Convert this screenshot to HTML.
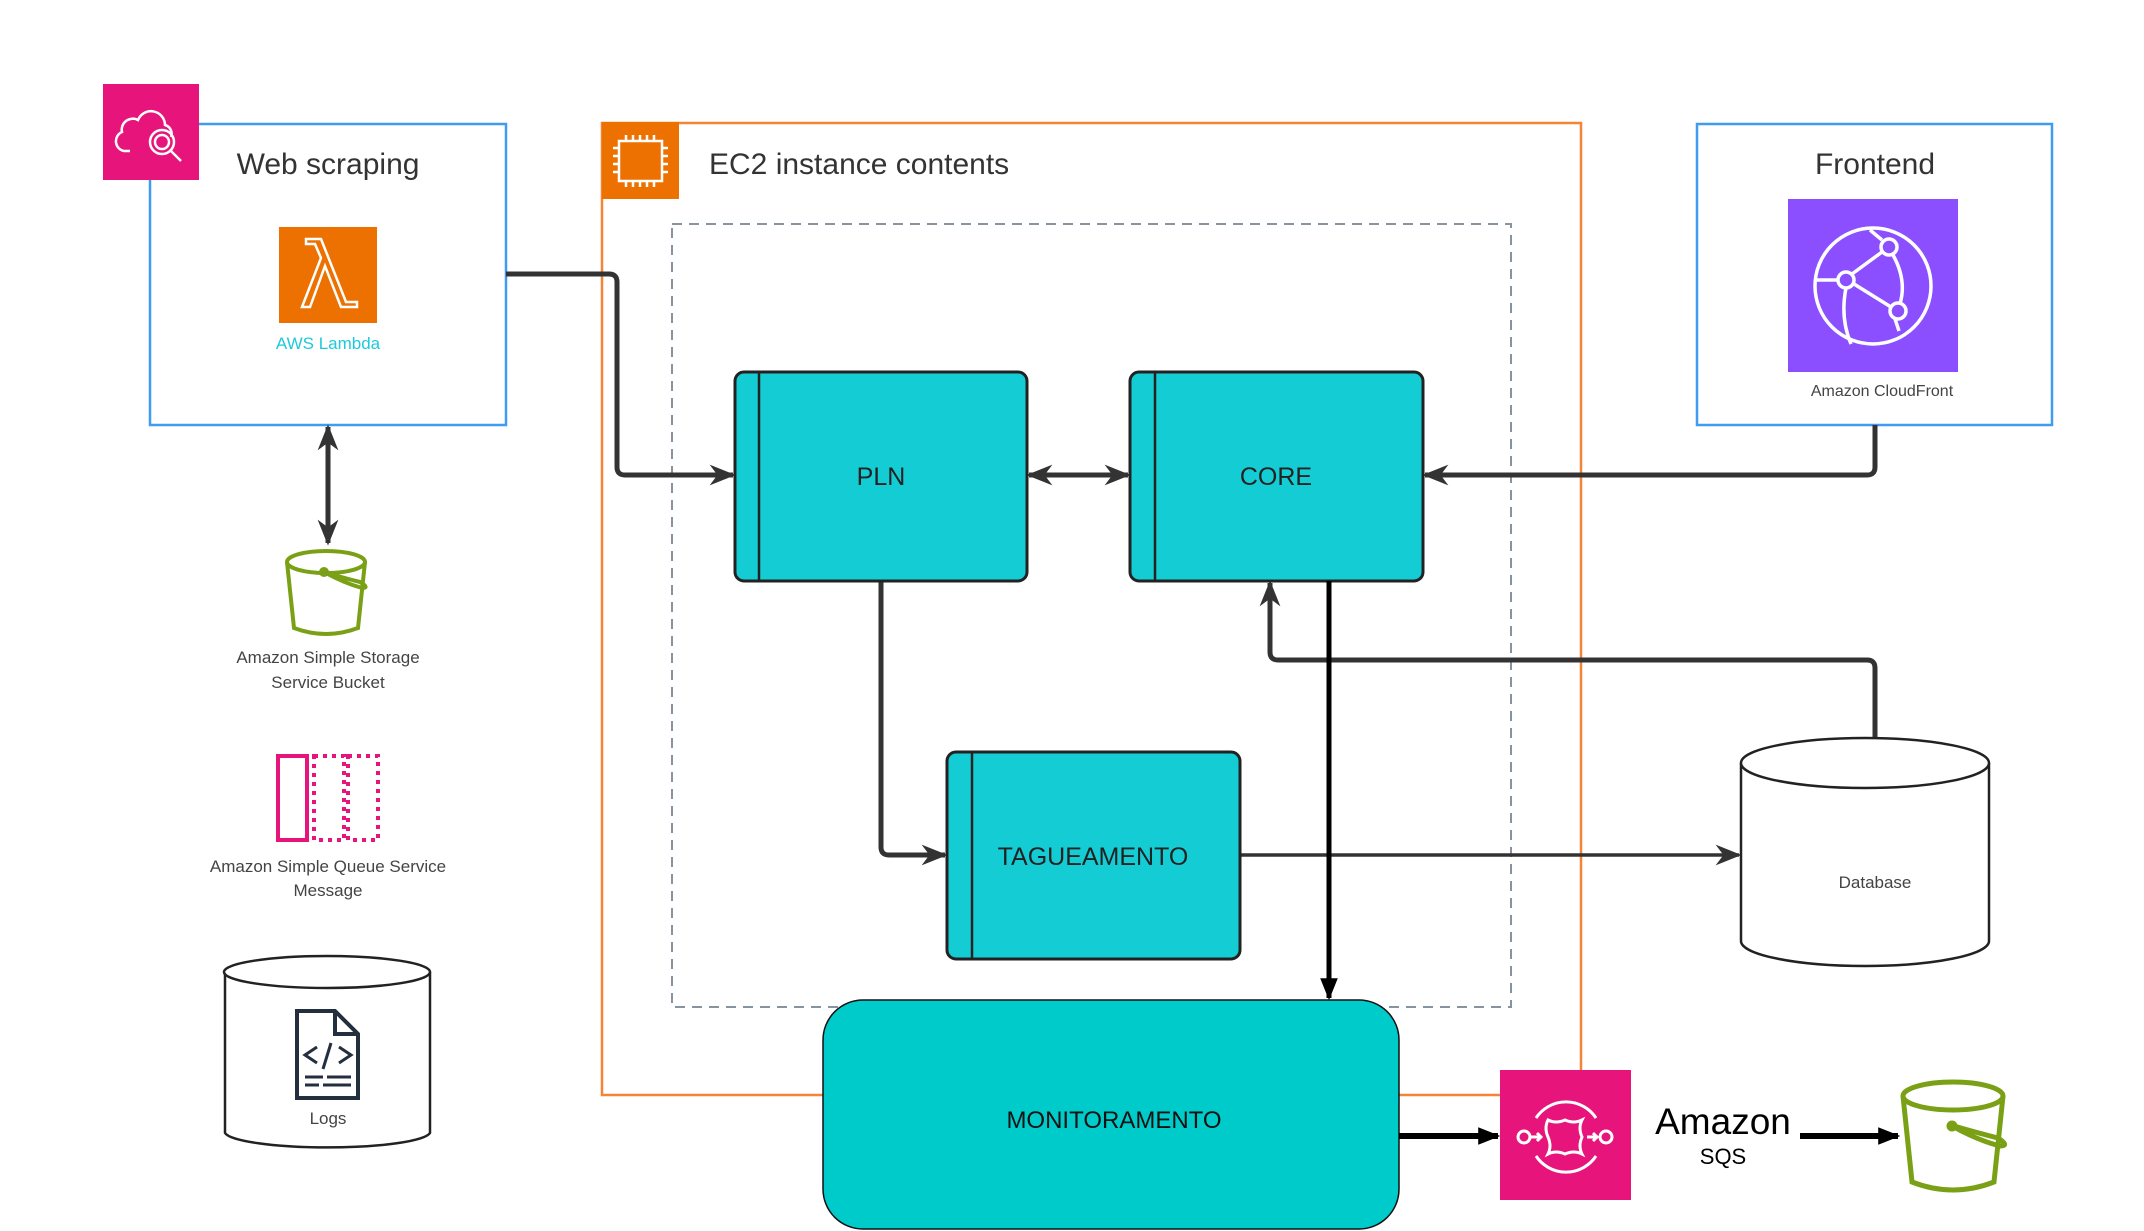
<!DOCTYPE html>
<html><head><meta charset="utf-8"><style>
html,body{margin:0;padding:0;background:#fff;}
svg{display:block;}
text{font-family:"Liberation Sans",sans-serif;}
</style></head><body>
<svg width="2144" height="1231" viewBox="0 0 2144 1231" xmlns="http://www.w3.org/2000/svg">
<defs>
<marker id="a2" viewBox="0 0 10 10" refX="9" refY="5" markerWidth="26" markerHeight="26" orient="auto-start-reverse" markerUnits="userSpaceOnUse"><path d="M0,1 L10,5 L0,9 L3,5 z" fill="#333"/></marker>
<marker id="ab" viewBox="0 0 10 10" refX="9" refY="5" markerWidth="22" markerHeight="22" orient="auto" markerUnits="userSpaceOnUse"><path d="M0,1 L10,5 L0,9 z" fill="#000"/></marker>
</defs>

<rect x="602" y="123" width="979" height="972" fill="none" stroke="#f58536" stroke-width="2.5"/>
<rect x="602" y="122" width="77" height="77" fill="#ed7100"/>
<g fill="none" stroke="#fff" stroke-width="2.5">
<rect x="619" y="141" width="43" height="40"/>
<path d="M626 141v-6M633 141v-6M640 141v-6M647 141v-6M654 141v-6M626 181v6M633 181v6M640 181v6M647 181v6M654 181v6M619 148h-6M619 156h-6M619 164h-6M619 172h-6M662 148h6M662 156h6M662 164h6M662 172h6"/>
</g>
<text x="709" y="174" font-size="30" fill="#333">EC2 instance contents</text>

<rect x="672" y="224" width="839" height="783" fill="none" stroke="#8893a0" stroke-width="2" stroke-dasharray="10,7"/>

<rect x="150" y="124" width="356" height="301" fill="#fff" stroke="#3f9cf0" stroke-width="2.5"/>
<rect x="103" y="84" width="96" height="96" fill="#e7157b"/>
<g fill="none" stroke="#fff" stroke-width="2.5">
<path d="M130 151 h-6 a10 10 0 0 1 -2 -19 a11 11 0 0 1 16 -12 a14 14 0 0 1 27 5 a9 9 0 0 1 6 12"/>
<circle cx="162" cy="142" r="12"/><circle cx="162" cy="142" r="7"/>
<path d="M171 151 l10 10"/>
</g>
<text x="328" y="174" font-size="30" fill="#333" text-anchor="middle">Web scraping</text>
<rect x="279" y="227" width="98" height="96" fill="#ed7100"/>
<path d="M306 239 h15 l25 63 h11 v5 h-16 l-16 -41 l-15 41 h-8 l19 -49 l-6 -14 h-9 z" fill="none" stroke="#fff" stroke-width="2.5"/>
<text x="328" y="349" font-size="17" fill="#1ec9dc" text-anchor="middle">AWS Lambda</text>

<rect x="1697" y="124" width="355" height="301" fill="#fff" stroke="#3f9cf0" stroke-width="2.5"/>
<text x="1875" y="174" font-size="30" fill="#333" text-anchor="middle">Frontend</text>
<rect x="1788" y="199" width="170" height="173" fill="#8c4fff"/>
<g fill="none" stroke="#fff" stroke-width="3.5">
<circle cx="1873" cy="286" r="58"/>
<circle cx="1889" cy="247" r="8"/><circle cx="1846" cy="280" r="8"/><circle cx="1898" cy="311" r="8"/>
<path d="M1882 252 l-30 22 M1854 284 l37 23 M1893 255 q14 25 7 49 M1846 288 q-6 30 5 56 M1838 280 h-22 M1870 230 l12 10 M1895 319 l4 12"/>
</g>
<text x="1882" y="396" font-size="16" fill="#444" text-anchor="middle">Amazon CloudFront</text>

<g fill="none" stroke="#333" stroke-width="5">
<path d="M506 274 H609 q8 0 8 8 V467 q0 8 8 8 H733" marker-end="url(#a2)"/>
<path d="M1029 475 H1128" marker-start="url(#a2)" marker-end="url(#a2)"/>
<path d="M1875 425 V467 q0 8 -8 8 H1425" marker-end="url(#a2)"/>
<path d="M881 581 V847 q0 8 8 8 H945" marker-end="url(#a2)"/>
<path d="M1875 738 V668 q0 -8 -8 -8 H1278 q-8 0 -8 -8 V583" marker-end="url(#a2)"/>
<path d="M328 427 V543" marker-start="url(#a2)" marker-end="url(#a2)"/>
</g>
<path d="M1240 855 H1739" fill="none" stroke="#333" stroke-width="3.5" marker-end="url(#a2)"/>

<g stroke="#222" stroke-width="3" fill="#14cdd4">
<rect x="735" y="372" width="292" height="209" rx="9"/>
<rect x="1130" y="372" width="293" height="209" rx="9"/>
<rect x="947" y="752" width="293" height="207" rx="9"/>
</g>
<g stroke="#222" stroke-width="2.5"><path d="M759 372V581M1155 372V581M972 752V959"/></g>
<text x="881" y="485" font-size="25" fill="#222" text-anchor="middle">PLN</text>
<text x="1276" y="485" font-size="25" fill="#222" text-anchor="middle">CORE</text>
<text x="1093" y="865" font-size="25" fill="#222" text-anchor="middle">TAGUEAMENTO</text>

<path d="M1741 763 V941 A124 25 0 0 0 1989 941 V763" fill="#fff" stroke="#222" stroke-width="2.5"/>
<ellipse cx="1865" cy="763" rx="124" ry="25" fill="#fff" stroke="#222" stroke-width="2.5"/>
<text x="1875" y="888" font-size="17" fill="#444" text-anchor="middle">Database</text>

<rect x="823" y="1000" width="576" height="229" rx="40" fill="#00cbcb" stroke="#111" stroke-width="1.5"/>
<text x="1114" y="1128" font-size="24" fill="#111" text-anchor="middle">MONITORAMENTO</text>
<path d="M1329 581 V998" stroke="#000" stroke-width="5" fill="none" marker-end="url(#ab)"/>
<path d="M1399 1136 H1498" stroke="#000" stroke-width="6" fill="none" marker-end="url(#ab)"/>

<rect x="1500" y="1070" width="131" height="130" fill="#e7157b"/>
<g fill="none" stroke="#fff" stroke-width="3">
<path d="M1536 1118 a36 36 0 0 1 60 0 M1536 1156 a36 36 0 0 0 60 0"/>
<circle cx="1524" cy="1137" r="6"/><circle cx="1606" cy="1137" r="6"/>
<path d="M1531 1137 h10 M1537 1133 l4 4 -4 4 M1587 1137 h10 M1593 1133 l4 4 -4 4"/>
<path d="M1548 1120 q8 4 17 0 q9 4 17 0 q-4 8 0 17 q-4 9 0 17 q-8 -4 -17 0 q-9 -4 -17 0 q4 -8 0 -17 q-4 -9 0 -17 z"/>
</g>
<text x="1723" y="1134" font-size="37" fill="#000" text-anchor="middle">Amazon</text>
<text x="1723" y="1164" font-size="22" fill="#000" text-anchor="middle">SQS</text>
<path d="M1800 1136 H1898" stroke="#000" stroke-width="6" fill="none" marker-end="url(#ab)"/>

<g fill="none" stroke="#7aa116" stroke-width="5">
<ellipse cx="1953" cy="1096" rx="50" ry="14"/>
<path d="M1903 1096 l9 86 q41 16 82 0 l9 -86"/>
<path d="M1952 1126 q25 14 48 20 q10 0 -2 -8 q-20 -5 -44 -12"/>
<circle cx="1952" cy="1126" r="3" fill="#7aa116"/>
</g>

<g fill="none" stroke="#7aa116" stroke-width="4">
<ellipse cx="326" cy="562" rx="39" ry="11"/>
<path d="M287 562 l7 66 q32 12 64 0 l7 -66"/>
<path d="M324 572 q20 11 38 16 q8 0 -2 -6 q-16 -4 -36 -10"/>
<circle cx="324" cy="572" r="3" fill="#7aa116"/>
</g>
<text x="328" y="663" font-size="17" fill="#444" text-anchor="middle">Amazon Simple Storage</text>
<text x="328" y="688" font-size="17" fill="#444" text-anchor="middle">Service Bucket</text>

<g fill="none" stroke="#e7157b" stroke-width="4">
<rect x="278" y="756" width="29" height="84"/>
<rect x="314" y="756" width="30" height="84" stroke-dasharray="4,5"/>
<rect x="348" y="756" width="30" height="84" stroke-dasharray="4,5"/>
</g>
<text x="328" y="872" font-size="17" fill="#444" text-anchor="middle">Amazon Simple Queue Service</text>
<text x="328" y="896" font-size="17" fill="#444" text-anchor="middle">Message</text>

<path d="M225 972 V1133 A103 16 0 0 0 430 1133 V972" fill="#fff" stroke="#222" stroke-width="2.5"/>
<ellipse cx="327" cy="972" rx="103" ry="16" fill="#fff" stroke="#222" stroke-width="2.5"/>
<g fill="none" stroke="#232f3e" stroke-width="4">
<path d="M297 1011 h38 l23 23 v64 h-61 z M335 1011 v23 h23"/>
<path d="M317 1047 l-12 8 12 8 M339 1047 l12 8 -12 8 M331 1043 l-8 26 M305 1077 h18 M327 1077 h24 M305 1085 h14 M323 1085 h28" stroke-width="3"/>
</g>
<text x="328" y="1124" font-size="17" fill="#444" text-anchor="middle">Logs</text>
</svg>
</body></html>
